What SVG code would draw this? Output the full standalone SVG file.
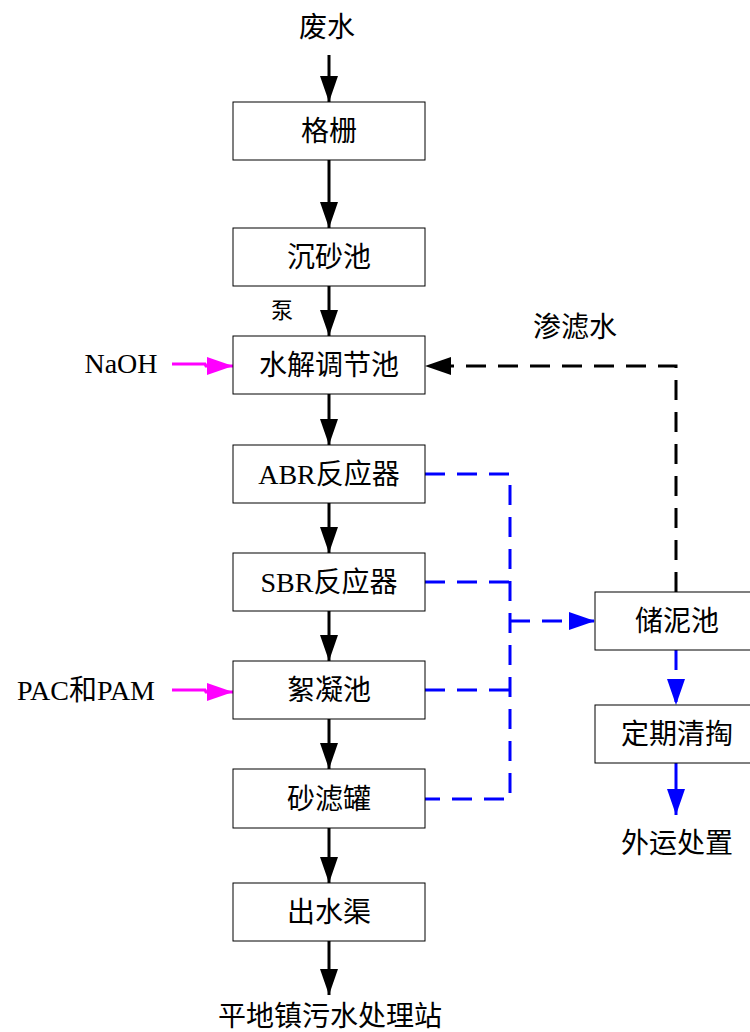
<svg xmlns="http://www.w3.org/2000/svg" width="750" height="1032" viewBox="0 0 750 1032">
<defs>
<marker id="ab" viewBox="0 0 26 18" refX="26" refY="9" markerWidth="26" markerHeight="18" markerUnits="userSpaceOnUse" orient="auto"><path d="M0,0 L26,9 L0,18 z" fill="#000"/></marker>
<marker id="ablue" viewBox="0 0 26 18" refX="26" refY="9" markerWidth="26" markerHeight="18" markerUnits="userSpaceOnUse" orient="auto"><path d="M0,0 L26,9 L0,18 z" fill="#0000ff"/></marker>
<marker id="am" viewBox="0 0 26 18" refX="26" refY="9" markerWidth="26" markerHeight="18" markerUnits="userSpaceOnUse" orient="auto"><path d="M0,0 L26,9 L0,18 z" fill="#ff00ff"/></marker>
</defs>
<style>
.box{fill:#fff;stroke:#000;stroke-width:1}
.t{font-family:"Liberation Serif","Noto Sans CJK SC",serif;font-size:28px;fill:#000;text-anchor:middle;dominant-baseline:central}
.s{font-size:22px}
.blk{fill:none;stroke:#000;stroke-width:3}
.bd{fill:none;stroke:#000;stroke-width:3;stroke-dasharray:20 12}
.bl{fill:none;stroke:#0000ff;stroke-width:3;stroke-dasharray:20 12}
.blsolid{fill:none;stroke:#0000ff;stroke-width:3}
.mg{fill:none;stroke:#ff00ff;stroke-width:3}
</style>
<rect width="750" height="1032" fill="#fff"/>
<g id="connectors">
<line class="blk" x1="329" y1="55" x2="329" y2="102" marker-end="url(#ab)"/>
<line class="blk" x1="329" y1="160" x2="329" y2="228" marker-end="url(#ab)"/>
<line class="blk" x1="329" y1="286" x2="329" y2="336" marker-end="url(#ab)"/>
<line class="blk" x1="329" y1="394" x2="329" y2="445" marker-end="url(#ab)"/>
<line class="blk" x1="329" y1="503" x2="329" y2="553" marker-end="url(#ab)"/>
<line class="blk" x1="329" y1="611" x2="329" y2="661" marker-end="url(#ab)"/>
<line class="blk" x1="329" y1="719" x2="329" y2="769" marker-end="url(#ab)"/>
<line class="blk" x1="329" y1="828" x2="329" y2="883" marker-end="url(#ab)"/>
<line class="blk" x1="329" y1="941" x2="329" y2="995" marker-end="url(#ab)"/>
<path class="mg" d="M172,364 L205,364 L206,366 L233,366" marker-end="url(#am)"/>
<path class="mg" d="M172,690 L205,690 L206,692 L233,692" marker-end="url(#am)"/>
<path class="bd" d="M676,592 L676,366 L425,366" marker-end="url(#ab)"/>
<path class="bl" d="M425,474 L510,474 L510,799 L425,799"/>
<path class="bl" d="M425,582 L510,582"/>
<path class="bl" d="M425,690 L510,690"/>
<path class="bl" d="M510,621 L595,621" marker-end="url(#ablue)"/>
<path class="bl" d="M676,650 L676,705" marker-end="url(#ablue)"/>
<path class="blsolid" d="M676,763 L676,815" marker-end="url(#ablue)"/>
</g>
<g id="n-feishui"><text class="t" x="327" y="27">废水</text></g>
<g id="n-gezha"><rect class="box" x="233" y="102" width="192" height="58"/><text class="t" x="329" y="131">格栅</text></g>
<g id="n-chenshachi"><rect class="box" x="233" y="228" width="192" height="58"/><text class="t" x="329" y="257">沉砂池</text></g>
<g id="n-beng"><text class="t s" x="282" y="310">泵</text></g>
<g id="n-shuijie"><rect class="box" x="233" y="336" width="192" height="58"/><text class="t" x="329" y="365">水解调节池</text></g>
<g id="n-abr"><rect class="box" x="233" y="445" width="192" height="58"/><text class="t" x="329" y="474">ABR反应器</text></g>
<g id="n-sbr"><rect class="box" x="233" y="553" width="192" height="58"/><text class="t" x="329" y="582">SBR反应器</text></g>
<g id="n-xuning"><rect class="box" x="233" y="661" width="192" height="58"/><text class="t" x="329" y="690">絮凝池</text></g>
<g id="n-shalv"><rect class="box" x="233" y="769" width="192" height="59"/><text class="t" x="329" y="799">砂滤罐</text></g>
<g id="n-chushui"><rect class="box" x="233" y="883" width="192" height="58"/><text class="t" x="329" y="912">出水渠</text></g>
<g id="n-zhan"><text class="t" x="330" y="1016">平地镇污水处理站</text></g>
<g id="n-naoh"><text class="t" x="121" y="363">NaOH</text></g>
<g id="n-pac"><text class="t" x="86" y="690">PAC和PAM</text></g>
<g id="n-shenlv"><text class="t" x="575" y="327">渗滤水</text></g>
<g id="n-chuni"><rect class="box" x="595" y="592" width="160" height="58"/><text class="t" x="677" y="621">储泥池</text></g>
<g id="n-qingtao"><rect class="box" x="595" y="705" width="160" height="58"/><text class="t" x="677" y="734">定期清掏</text></g>
<g id="n-waiyun"><text class="t" x="677" y="843">外运处置</text></g>
</svg>
